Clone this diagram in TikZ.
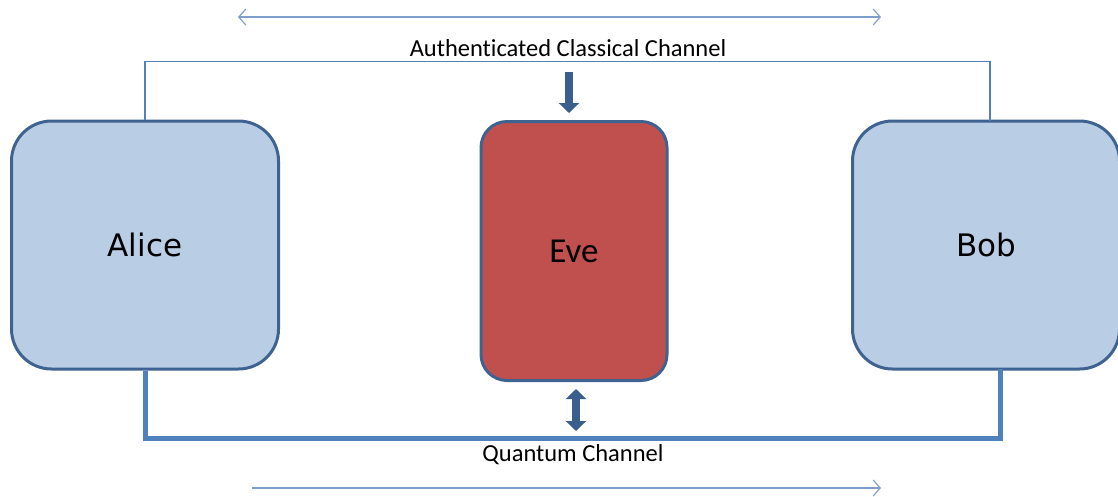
\documentclass[tikz,border=0pt]{standalone}
\usepackage{fontspec}
\setmainfont[Ligatures=NoCommon]{Carlito}
\newfontfamily\namefont{DejaVu Sans}
\usetikzlibrary{arrows.meta}
\definecolor{boxfill}{HTML}{B9CDE5}
\definecolor{boxedge}{HTML}{3F6391}
\definecolor{evefill}{HTML}{C0504D}
\definecolor{chan}{HTML}{4F81BD}
\definecolor{lightarrow}{HTML}{7F9FCB}
\definecolor{blockarrow}{HTML}{3A5F8E}
\tikzset{
  party/.style={draw=boxedge, line width=3pt, fill=boxfill, rounded corners=40pt,
    minimum width=267pt, minimum height=248pt, font=\namefont\fontsize{31}{36}\selectfont},
  evebox/.style={draw=boxedge, line width=3pt, fill=evefill, rounded corners=26pt,
    minimum width=186pt, minimum height=259pt, font=\fontsize{35}{40}\selectfont},
  classical/.style={draw=chan, line width=1.3pt},
  quantum/.style={draw=chan, line width=5pt},
  thinarrow/.style={draw=lightarrow, line width=1.2pt},
  blockarr/.style={draw=blockarrow, line width=7.5pt},
  lbl/.style={font=\fontsize{24.5}{28}\selectfont}
}
\begin{document}
\begin{tikzpicture}[x=1pt,y=-1pt]
\useasboundingbox (0,0) rectangle (1118,496);
% nodes
\node[party] (alice) at (145,245) {Alice};
\node[party] (bob) at (986,245) {Bob};
\node[evebox] (eve) at (574,251) {Eve};
\node[lbl] (acc) at (568,48) {Authenticated Classical Channel};
\node[lbl] (qc) at (573,455) {Quantum Channel};
% classical channel
\coordinate (bobtop) at (990,121);
\draw[classical] (alice.north) -- ++(0,-58) -| (bobtop);
% quantum channel
\coordinate (bobbot) at (1000,369);
\draw[quantum] (alice.south) -- ++(0,68) -| (bobbot);
% direction arrows
\coordinate (ta1) at (238,17);
\coordinate (ta2) at (881,17);
\draw[thinarrow, {Straight Barb[length=7pt,width=16pt]}-{Straight Barb[length=7pt,width=16pt]}] (ta1) -- (ta2);
\coordinate (ba1) at (252,488);
\coordinate (ba2) at (881,488);
\draw[thinarrow, -{Straight Barb[length=7pt,width=16pt]}] (ba1) -- (ba2);
% Eve arrows
\coordinate (ea1) at (569,72);
\coordinate (ea2) at (569,113);
\draw[blockarr, -{Triangle[length=10pt,width=20pt]}] (ea1) -- (ea2);
\coordinate (eb1) at (576,389);
\coordinate (eb2) at (576,431);
\draw[blockarr, {Triangle[length=10pt,width=20pt]}-{Triangle[length=10pt,width=20pt]}] (eb1) -- (eb2);
\end{tikzpicture}
\end{document}
